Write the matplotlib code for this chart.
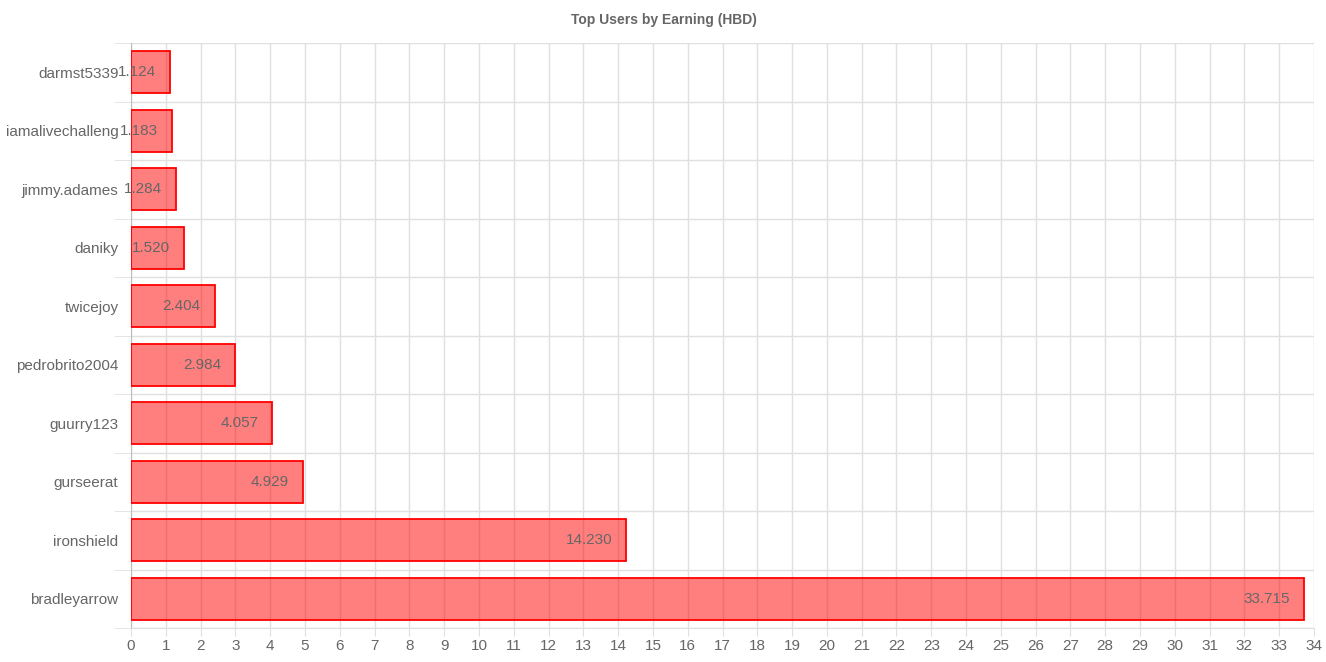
import numpy as np
import matplotlib.pyplot as plt
from matplotlib.ticker import MultipleLocator, FixedLocator

#(0) Data:
users    = ['darmst5339', 'iamalivechalleng', 'jimmy.adames', 'daniky', 'twicejoy',
            'pedrobrito2004', 'guurry123', 'gurseerat', 'ironshield', 'bradleyarrow']
earnings = [1.124, 1.183, 1.284, 1.520, 2.404, 2.984, 4.057, 4.929, 14.230, 33.715]
labels   = ['%.3f' % v for v in earnings]

plt.rcParams['font.family'] = ['Liberation Sans', 'DejaVu Sans']
grid_c   = '#e0e0e0'
text_c   = '#666666'

#(1) Plot:
fig = plt.figure(figsize=(13.26, 6.62), dpi=100)
ax  = fig.add_axes([131/1326, 1-628/662, (1314-131)/1326, (628-43)/662])

y = np.arange(len(users))
ax.barh(y, earnings, height=0.72, color=(1, 0, 0, 0.5), edgecolor='#ff0000', linewidth=1.3, zorder=3)
for yi, v, s in zip(y, earnings, labels):
    ax.annotate(s, (v, yi), xytext=(-10, 0), textcoords='offset points',
                ha='right', va='center', fontsize=11, color=text_c, zorder=4)

ax.set_xlim(0, 34)
ax.set_ylim(len(users)-0.5, -0.5)
ax.xaxis.set_major_locator(MultipleLocator(1))
ax.set_yticks(y)
ax.set_yticklabels(users)
ax.yaxis.set_minor_locator(FixedLocator(np.arange(-0.5, len(users), 1)))

ax.grid(axis='x', which='major', color=grid_c, linewidth=1, zorder=0)
ax.grid(axis='y', which='minor', color=grid_c, linewidth=1, zorder=0)
ax.tick_params(axis='x', which='major', length=6, color=grid_c, labelcolor=text_c, labelsize=11, pad=2)
ax.tick_params(axis='y', which='major', length=0, labelcolor=text_c, labelsize=11, pad=9)
ax.tick_params(axis='y', which='minor', length=12, color=grid_c)
for side in ['top', 'right']:
    ax.spines[side].set_visible(False)
ax.spines['bottom'].set_color(grid_c)
ax.spines['left'].set_color('#bdbdbd')

fig.text(664/1326, 1-20/662, 'Top Users by Earning (HBD)', ha='center', va='center',
         fontsize=10, fontweight='bold', color=text_c)

plt.savefig('out.png', dpi=100)
